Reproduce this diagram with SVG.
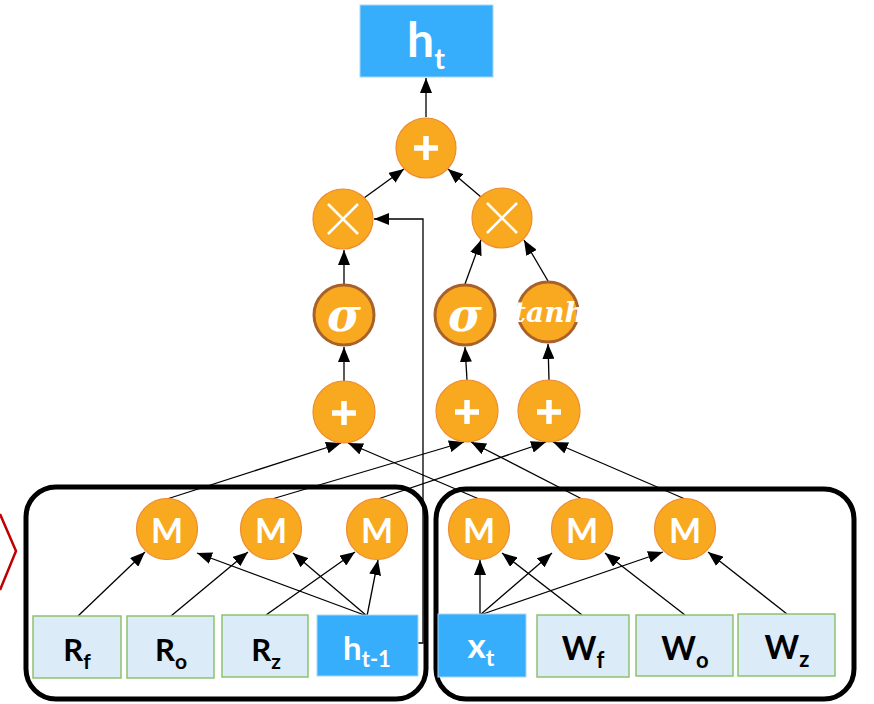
<svg xmlns="http://www.w3.org/2000/svg" width="874" height="704" viewBox="0 0 874 704">
  <defs>
    <marker id="arrow" markerUnits="userSpaceOnUse" markerWidth="15" markerHeight="12" refX="15" refY="6" orient="auto">
      <path d="M0,0 L15,6 L0,12 z" fill="#000"/>
    </marker>
    <style>
      .op { fill: #F8A91F; stroke: #EE8B30; stroke-width: 1.2; }
      .act { fill: #F8A91F; stroke: #A8612A; stroke-width: 3; }
      .blue { fill: #37AEFB; stroke: #A9D6F5; stroke-width: 1; }
      .param { fill: #DBEBF8; stroke: #8DC26F; stroke-width: 1.5; }
      .group { fill: none; stroke: #000; stroke-width: 5; }
      .edge { fill: none; stroke: #000; stroke-width: 1.3; marker-end: url(#arrow); }
      .sym { stroke: #fff; fill: none; }
      .lbl { font-family: Lato, "Open Sans", sans-serif; font-weight: bold; text-anchor: middle; }
      .greek { font-family: "DejaVu Serif", "Liberation Serif", serif; font-style: italic; font-weight: bold; fill: #fff; text-anchor: middle; }
    </style>
  </defs>

  <!-- grouping frames -->
  <rect class="group" x="26" y="487" width="400" height="212" rx="30"/>
  <rect class="group" x="436" y="489" width="418" height="210" rx="30"/>
  <polyline points="0,514 16,551 0,590" fill="none" stroke="#C00000" stroke-width="2.5"/>

  <!-- connectors -->
  <g id="connectors">
    <!-- inputs to matrix products -->
    <line class="edge" x1="78" y1="616" x2="145" y2="552"/>
    <line class="edge" x1="171" y1="616" x2="248" y2="552"/>
    <line class="edge" x1="266" y1="615" x2="355" y2="552"/>
    <line class="edge" x1="367" y1="616" x2="197" y2="553"/>
    <line class="edge" x1="367" y1="616" x2="293" y2="553"/>
    <line class="edge" x1="367" y1="616" x2="378" y2="560"/>
    <line class="edge" x1="480" y1="615" x2="480" y2="560"/>
    <line class="edge" x1="480" y1="615" x2="552" y2="553"/>
    <line class="edge" x1="480" y1="615" x2="663" y2="552"/>
    <line class="edge" x1="582" y1="615" x2="502" y2="553"/>
    <line class="edge" x1="685" y1="615" x2="605" y2="553"/>
    <line class="edge" x1="787" y1="614" x2="708" y2="552"/>
    <!-- matrix products to sums -->
    <line class="edge" x1="167" y1="499" x2="341" y2="443"/>
    <line class="edge" x1="479" y1="499" x2="348" y2="443"/>
    <line class="edge" x1="272" y1="499" x2="464" y2="442"/>
    <line class="edge" x1="582" y1="499" x2="471" y2="442"/>
    <line class="edge" x1="378" y1="499" x2="546" y2="442"/>
    <line class="edge" x1="685" y1="499" x2="553" y2="442"/>
    <!-- sums to activations -->
    <line class="edge" x1="344" y1="381" x2="344" y2="347"/>
    <line class="edge" x1="467" y1="380" x2="465" y2="347"/>
    <line class="edge" x1="549" y1="380" x2="548" y2="344"/>
    <!-- activations to products -->
    <line class="edge" x1="344" y1="284" x2="344" y2="250"/>
    <line class="edge" x1="465" y1="284" x2="481" y2="240"/>
    <line class="edge" x1="548" y1="281" x2="524" y2="240"/>
    <!-- products to output sum -->
    <line class="edge" x1="364" y1="198" x2="404" y2="169"/>
    <line class="edge" x1="481" y1="197" x2="448" y2="169"/>
    <line class="edge" x1="426" y1="117" x2="426" y2="78"/>
    <!-- previous state into forget product -->
    <polyline class="edge" points="418,643 423,643 423,219 374,219"/>
  </g>

  <!-- output -->
  <g id="h_t">
    <rect class="blue" x="360" y="5" width="133" height="72"/>
    <text class="lbl" x="426" y="57" font-size="48" fill="#fff">h<tspan font-size="29" dy="12">t</tspan></text>
  </g>

  <g id="sum_out">
    <circle class="op" cx="426" cy="148" r="30"/>
    <path class="sym" d="M414,148 H438 M426,136 V160" stroke-width="5.5"/>
  </g>

  <g id="mul_forget">
    <circle class="op" cx="343" cy="219" r="30"/>
    <path class="sym" d="M328,204 L358,234 M358,204 L328,234" stroke-width="2.5"/>
  </g>
  <g id="mul_input">
    <circle class="op" cx="502" cy="218" r="30"/>
    <path class="sym" d="M487,203 L517,233 M517,203 L487,233" stroke-width="2.5"/>
  </g>

  <g id="sigma_f">
    <circle class="act" cx="344" cy="315" r="30"/>
    <text class="greek" x="344" y="331" font-size="46">σ</text>
  </g>
  <g id="sigma_o">
    <circle class="act" cx="465" cy="315" r="30"/>
    <text class="greek" x="465" y="331" font-size="46">σ</text>
  </g>
  <g id="tanh_z">
    <circle class="act" cx="548" cy="312" r="30"/>
    <text class="greek" x="549" y="322" font-size="28">tanh</text>
  </g>

  <g id="sum_f">
    <circle class="op" cx="344" cy="412" r="31"/>
    <path class="sym" d="M332,413 H356 M344,401 V425" stroke-width="5.5"/>
  </g>
  <g id="sum_o">
    <circle class="op" cx="467" cy="411" r="31"/>
    <path class="sym" d="M455,412 H479 M467,400 V424" stroke-width="5.5"/>
  </g>
  <g id="sum_z">
    <circle class="op" cx="549" cy="411" r="31"/>
    <path class="sym" d="M537,412 H561 M549,400 V424" stroke-width="5.5"/>
  </g>

  <!-- matrix products -->
  <g id="M_Rf">
    <circle class="op" cx="167" cy="529" r="30.5"/>
    <text class="lbl" x="167" y="543" font-size="34" fill="#fff">M</text>
  </g>
  <g id="M_Ro">
    <circle class="op" cx="271" cy="529" r="30.5"/>
    <text class="lbl" x="271" y="543" font-size="34" fill="#fff">M</text>
  </g>
  <g id="M_Rz">
    <circle class="op" cx="377" cy="529" r="30.5"/>
    <text class="lbl" x="377" y="543" font-size="34" fill="#fff">M</text>
  </g>
  <g id="M_Wf">
    <circle class="op" cx="479" cy="529" r="30.5"/>
    <text class="lbl" x="479" y="543" font-size="34" fill="#fff">M</text>
  </g>
  <g id="M_Wo">
    <circle class="op" cx="582" cy="529" r="30.5"/>
    <text class="lbl" x="582" y="543" font-size="34" fill="#fff">M</text>
  </g>
  <g id="M_Wz">
    <circle class="op" cx="685" cy="529" r="30.5"/>
    <text class="lbl" x="685" y="543" font-size="34" fill="#fff">M</text>
  </g>

  <!-- inputs and weights -->
  <g id="R_f">
    <rect class="param" x="33" y="616" width="88" height="62"/>
    <text class="lbl" x="77" y="661" font-size="31" fill="#000">R<tspan font-size="21" dy="8">f</tspan></text>
  </g>
  <g id="R_o">
    <rect class="param" x="127" y="616" width="87" height="62"/>
    <text class="lbl" x="171" y="661" font-size="31" fill="#000">R<tspan font-size="21" dy="8">o</tspan></text>
  </g>
  <g id="R_z">
    <rect class="param" x="222" y="615" width="86" height="62"/>
    <text class="lbl" x="266" y="661" font-size="31" fill="#000">R<tspan font-size="21" dy="8">z</tspan></text>
  </g>
  <g id="h_prev">
    <rect class="blue" x="317" y="615" width="101" height="61"/>
    <text class="lbl" x="367" y="660" font-size="33" fill="#fff">h<tspan font-size="22" dy="7">t-1</tspan></text>
  </g>
  <g id="x_t">
    <rect class="blue" x="438" y="614" width="88" height="63"/>
    <text class="lbl" x="481" y="658" font-size="35" fill="#fff">x<tspan font-size="23" dy="8">t</tspan></text>
  </g>
  <g id="W_f">
    <rect class="param" x="537" y="615" width="92" height="62"/>
    <text class="lbl" x="583" y="660" font-size="33" fill="#000">W<tspan font-size="22" dy="8">f</tspan></text>
  </g>
  <g id="W_o">
    <rect class="param" x="636" y="615" width="97" height="61"/>
    <text class="lbl" x="685" y="660" font-size="33" fill="#000">W<tspan font-size="22" dy="8">o</tspan></text>
  </g>
  <g id="W_z">
    <rect class="param" x="738" y="614" width="97" height="62"/>
    <text class="lbl" x="787" y="659" font-size="33" fill="#000">W<tspan font-size="22" dy="8">z</tspan></text>
  </g>
</svg>
